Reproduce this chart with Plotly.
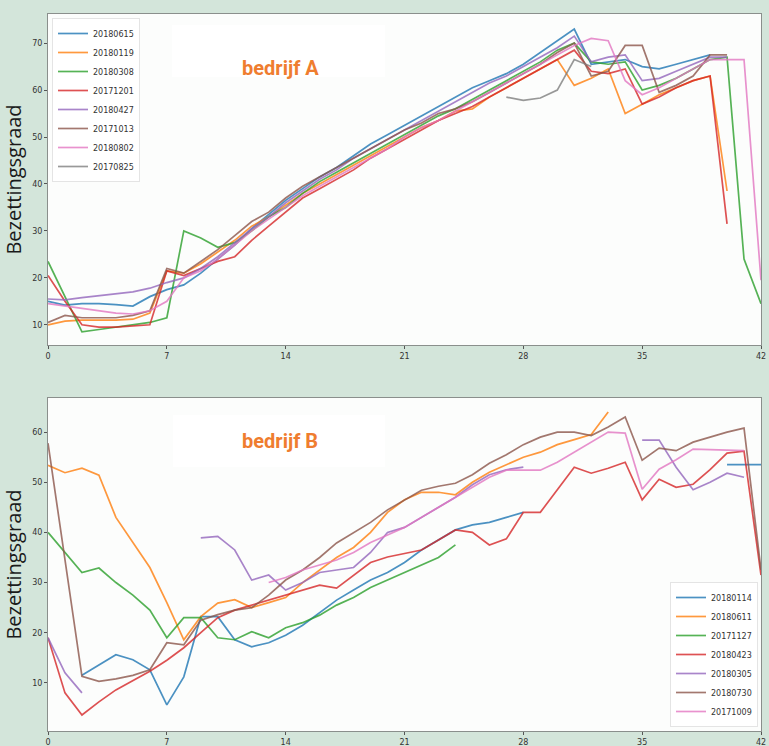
import plotly.graph_objects as go

N = None
days = list(range(43))

# ---- bedrijf A ----
a_labels = ["20180615", "20180119", "20180308", "20171201", "20180427", "20171013", "20180802", "20170825"]
a_blue = [15,14.2,14.5,14.5,14.3,14.0,16,17.5,18.5,21,24,27,30.5,33.5,36.5,39,41.5,43.5,46,48.5,50.5,52.5,54.5,56.5,58.5,60.5,62,63.5,65.5,68,70.5,73,65.5,66,66.5,65,64.5,65.5,66.5,67.5,N,N,N]
a_orange = [10,10.8,11,11,11,11.2,12.5,21.5,21,23,25.5,28,31,33,35.5,38,40,42,44,46,48,50,52,53.5,55.5,56,58.5,60.5,62.5,64.5,66.5,61,62.5,64.5,55,57,59,60.5,62,63,38.5,N,N]
a_green = [23.5,16,8.5,9,9.5,10,10.5,11.5,30,28.5,26.5,27.5,30,33,35,38,40.5,42.5,44.5,46.5,48.5,50.5,52.5,54.5,56,58,60,62,64,66,68.5,70,66,65.5,66,60,61,62.5,64.5,66.5,67,24,14.5]
a_red = [20.5,15,10,9.5,9.5,9.8,10,21.5,20.5,22,23.5,24.5,28,31,34,37,39,41,43,45.5,47.5,49.5,51.5,53.5,55,56.5,58.5,60.5,62.5,64.5,66.5,68.5,64,63.5,64.5,57,58.5,60.5,62,63,31.5,N,N]
a_purple = [15.5,15.3,15.8,16.2,16.5,17,17.8,19,20,22,24.5,27.5,30.5,33,36,38.5,41,43,45.5,47.5,49.5,51.5,53.5,55.5,57.5,59.5,61.5,63,65,67,69,71.5,66,67,67.5,62,62.5,64,65.5,67,67,N,N]
a_brown = [10.5,12,11.5,11.5,11.5,12,13,22,21,23.5,26,29,32,34,37,39.5,41.5,43.5,45.5,47.5,49.5,51.5,53,55,56,57.5,59.5,61.5,63.5,65.5,68,70,63,64,69.5,69.5,59.5,61,63,67.5,67.5,N,N]
a_pink = [14.5,14,13.5,13,12.5,12.3,13,15,20,21.5,24,27,30,32.5,35,37.5,39.5,41.5,43.5,45.5,47.5,50,52,53.5,55.5,57.5,59.5,61.5,63.5,65.5,67.5,69.5,71,70.5,62,59,60.5,62.5,64.5,66.5,66.5,66.5,19.5]
a_gray = [N]*27 + [58.5,57.8,58.3,60,66.5,65] + [N]*10

# ---- bedrijf B ----
b_labels = ["20180114", "20180611", "20171127", "20180423", "20180305", "20180730", "20171009"]
b_blue = [N,N,11.5,13.5,15.6,14.6,12.6,5.6,11.2,23.2,23.2,18.6,17.2,18,19.5,21.5,24,26.5,28.5,30.5,32,34,36.5,38.5,40.5,41.5,42,43,44] + [N]*11 + [53.5,53.5,53.5]
b_orange = [53.4,51.9,52.8,51.4,43,38,33,26,18.6,23.2,25.9,26.6,25,26,27,30,32.5,35,37,40,44,46.5,48,48,47.5,50,52,53.5,55,56,57.5,58.5,59.5,64] + [N]*9
b_green = [40,36,32,32.9,30,27.5,24.5,19,23,23,19,18.6,20.2,19,21,22,23.5,25.5,27,29,30.5,32,33.5,35,37.5] + [N]*18
b_red = [19,8,3.6,6.2,8.6,10.5,12.3,14.5,17,20,23,24.5,25.5,26.5,27.5,28.5,29.5,28.9,31.5,34,35.1,35.8,36.5,38.5,40.5,40,37.5,38.7,44,44,48.5,53,51.8,52.8,54,46.5,50.6,49,49.6,52.5,55.8,56.2,31.5]
b_purple = [19,12,8] + [N]*6 + [38.9,39.2,36.5,30.5,31.5,28.5,30,32,32.5,33,36,40,41,43,45,47,49.5,51.5,52.5,53] + [N]*6 + [58.4,58.4,53,48.5,50,51.8,51,N]
b_brown = [57.8,34.5,11.3,10.3,10.8,11.5,12.6,18,17.6,22.5,23.6,24.5,25,27.5,30.5,32.5,35,37.9,40,42,44.5,46.5,48.4,49.2,49.8,51.5,53.8,55.5,57.5,59,60,60,59.3,61,63,54.4,56.8,56.3,58,59,60,60.8,32.5]
b_pink = [N]*13 + [30,31,32.5,33.5,34.5,36,38,39.5,41,43,45,47,49,51,52.4,52.4,52.4,54,56,58,60,59.8,48.6,52.6,54.5,56.6,56.5,56.3,56.3] + [N]

x_ticks = [0, 7, 14, 21, 28, 35, 42]
tab10 = ["#1f77b4", "#ff7f0e", "#2ca02c", "#d62728", "#9467bd", "#8c564b", "#e377c2", "#7f7f7f"]

fig = go.Figure()
a_series = [a_blue, a_orange, a_green, a_red, a_purple, a_brown, a_pink, a_gray]
for i, (lab, vals) in enumerate(zip(a_labels, a_series)):
    assert len(vals) == 43, (lab, len(vals))
    fig.add_trace(go.Scatter(x=days, y=vals, mode="lines", name=lab,
                             line=dict(color=tab10[i], width=1.7), opacity=0.8,
                             xaxis="x", yaxis="y", legend="legend"))
b_series = [b_blue, b_orange, b_green, b_red, b_purple, b_brown, b_pink]
for i, (lab, vals) in enumerate(zip(b_labels, b_series)):
    assert len(vals) == 43, (lab, len(vals))
    fig.add_trace(go.Scatter(x=days, y=vals, mode="lines", name=lab,
                             line=dict(color=tab10[i], width=1.7), opacity=0.8,
                             xaxis="x2", yaxis="y2", legend="legend2"))

W, H = 769, 746
def px(x): return x / W
def py(y): return 1 - y / H

axis_common = dict(showgrid=False, zeroline=False, showline=True, mirror=True, automargin=False,
                   linecolor="#8a8f8c", linewidth=1, ticks="outside", ticklen=3,
                   tickcolor="#555", tickfont=dict(size=8, color="#333", family="DejaVu Sans"))
title_font = dict(size=20, color="#1a1a1a", family="Open Sans")

fig.update_layout(
    width=W, height=H,
    margin=dict(l=0, r=0, t=0, b=0, autoexpand=False),
    paper_bgcolor="#d3e5da",
    plot_bgcolor="#fcfdfc",
    showlegend=True,
    xaxis=dict(domain=[px(48), px(761)], range=[0, 42], tickvals=x_ticks, anchor="y", **axis_common),
    yaxis=dict(domain=[py(345), py(14)], range=[5.7, 76.2], tickvals=[10, 20, 30, 40, 50, 60, 70],
               anchor="x", title=dict(text="Bezettingsgraad", font=title_font, standoff=9), **axis_common),
    xaxis2=dict(domain=[px(48), px(761)], range=[0, 42], tickvals=x_ticks, anchor="y2", **axis_common),
    yaxis2=dict(domain=[py(731), py(398)], range=[0.4, 66.8], tickvals=[10, 20, 30, 40, 50, 60],
                anchor="x2", title=dict(text="Bezettingsgraad", font=title_font, standoff=9), **axis_common),
    legend=dict(x=px(52), y=py(18), xanchor="left", yanchor="top",
                font=dict(size=8, color="#333", family="DejaVu Sans"),
                bgcolor="rgba(255,255,255,0.85)", bordercolor="#e4e4e4", borderwidth=1,
                tracegroupgap=0, itemwidth=30),
    legend2=dict(x=px(758), y=py(727), xanchor="right", yanchor="bottom",
                 font=dict(size=8, color="#333", family="DejaVu Sans"),
                 bgcolor="rgba(255,255,255,0.85)", bordercolor="#e4e4e4", borderwidth=1,
                 tracegroupgap=0, itemwidth=30),
    shapes=[
        dict(type="rect", xref="paper", yref="paper", x0=px(172), x1=px(385), y0=py(77), y1=py(25),
             fillcolor="white", line=dict(width=0), layer="above"),
        dict(type="rect", xref="paper", yref="paper", x0=px(173), x1=px(385), y0=py(467), y1=py(415),
             fillcolor="white", line=dict(width=0), layer="above"),
    ],
    annotations=[
        dict(text="<b>bedrijf A</b>", xref="paper", yref="paper", x=px(280), y=py(54),
             showarrow=False, font=dict(size=20, color="#ef7d2f", family="Roboto")),
        dict(text="<b>bedrijf B</b>", xref="paper", yref="paper", x=px(280), y=py(441),
             showarrow=False, font=dict(size=20, color="#ef7d2f", family="Roboto")),
    ],
)

fig.write_html("out.html", config={"displayModeBar": False},
               post_script="document.body.style.margin='0';document.body.style.overflow='hidden';")
